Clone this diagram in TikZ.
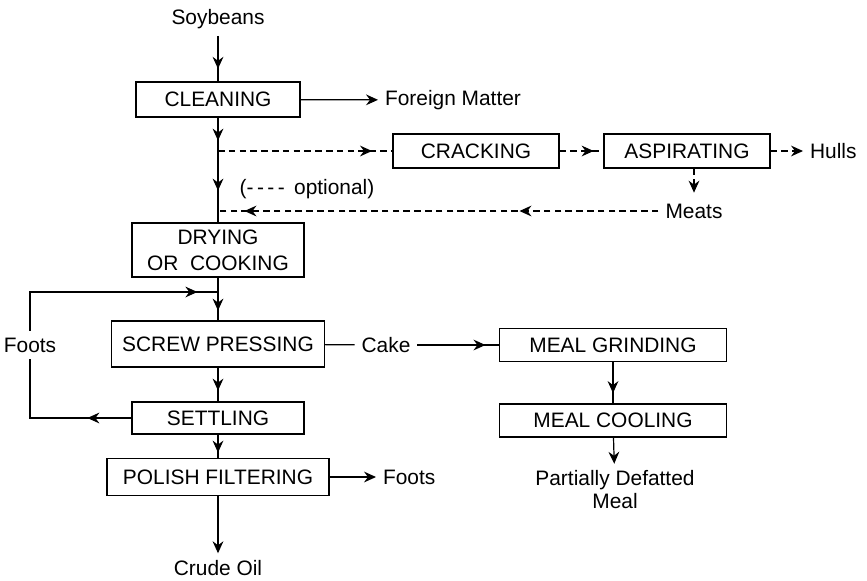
\documentclass[tikz,border=0pt]{standalone}
\usepackage{fontspec}
\setmainfont{Liberation Sans}
\usetikzlibrary{arrows.meta, decorations.markings}

\tikzset{
  box/.style={draw, line width=0.6pt, align=center, inner sep=0pt},
  flow/.style={line width=0.6pt},
  dashline/.style={flow, dash pattern=on 3.3pt off 2.1pt},
  tipat/.style={postaction={decorate}, decoration={markings, mark=at position #1 with {\arrow{>}}}},
  tipsat/.style 2 args={postaction={decorate}, decoration={markings, mark=at position #1 with {\arrow{>}}, mark=at position #2 with {\arrow{>}}}},
}

\begin{document}
\begin{tikzpicture}[x=0.5pt,y=-0.5pt,>={Stealth[length=6pt,width=5.4pt,inset=2pt]},
  every node/.style={font=\fontsize{10.45}{13}\selectfont}]
\useasboundingbox (0,0) rectangle (867,580);
% main line
\node (soy) at (218,19) {Soybeans};
\node[box, minimum width=82pt, minimum height=17.5pt] (clean) at (218,99.5) {CLEANING};
\node[anchor=west] (foreign) at (378,100) {Foreign Matter};
\node[box, minimum width=86pt, minimum height=27pt] (dry) at (218,250) {DRYING\\OR\ \ COOKING};
\node[box, minimum width=106.5pt, minimum height=23pt] (screw) at (218,344) {SCREW PRESSING};
\node[box, minimum width=86pt, minimum height=16pt] (settle) at (218,418) {SETTLING};
\node[box, minimum width=111pt, minimum height=18.5pt] (polish) at (218,477) {POLISH FILTERING};
\node (crude) at (218,568) {Crude Oil};
\node (foots1) at (30,345) {Foots};
\node[anchor=west] (foots2) at (376,477) {Foots};
% optional dehulling
\node[box, minimum width=83pt, minimum height=17pt] (crack) at (476,151) {CRACKING};
\node[box, minimum width=83pt, minimum height=17pt] (aspir) at (687,151) {ASPIRATING};
\node[anchor=west] (hulls) at (803,151) {Hulls};
\node (meats) at (694,211) {Meats};
\node (opt) at (307,189) {(-\,-\,-\,-\, optional)};
\coordinate (br1) at (218,151);
\coordinate (br2) at (218,211);
\coordinate (j1) at (218,292);
% meal side
\node (cake) at (386,345) {Cake};
\node[box, minimum width=113.5pt, minimum height=16.5pt] (grind) at (613,345) {MEAL GRINDING};
\node[box, minimum width=113.5pt, minimum height=16.5pt] (cool) at (613,420.5) {MEAL COOLING};
\node[align=center] (partial) at (615,490) {Partially Defatted\\[-1.5pt]Meal};

\draw[flow, tipat=16.5pt] (soy) -- (clean);
\draw[flow, ->] (clean) -- (foreign);
\draw[flow, tipsat={11.5pt}{36.5pt}] (clean) -- (dry);
\draw[dashline, tipat=77pt] (br1) -- (crack);
\draw[dashline, tipat=17pt] (crack) -- (aspir);
\draw[dashline, ->] (aspir) -- (hulls);
\draw[dashline, ->, shorten >=2pt] (aspir.south -| meats) -- (meats);
\draw[dashline, tipsat={69.5pt}{207pt}] (meats) -- (br2);
\draw[flow, tipat=16.5pt] (dry) -- (screw);
\draw[flow, tipat=103pt] (foots1.north) |- (j1);
\draw[flow, tipat=22pt] (settle.west) -| (foots1.south);
\draw[flow, tipat=11.5pt] (screw) -- (settle);
\draw[flow, tipat=9pt] (settle) -- (polish);
\draw[flow, ->] (polish) -- (foots2);
\draw[flow, ->] (polish) -- (crude);
\draw[flow] (screw) -- (cake);
\draw[flow, tipat=34pt] (cake) -- (grind);
\draw[flow, tipat=15.5pt] (grind) -- (cool);
\draw[flow, ->] (cool) -- (partial);
\end{tikzpicture}
\end{document}
